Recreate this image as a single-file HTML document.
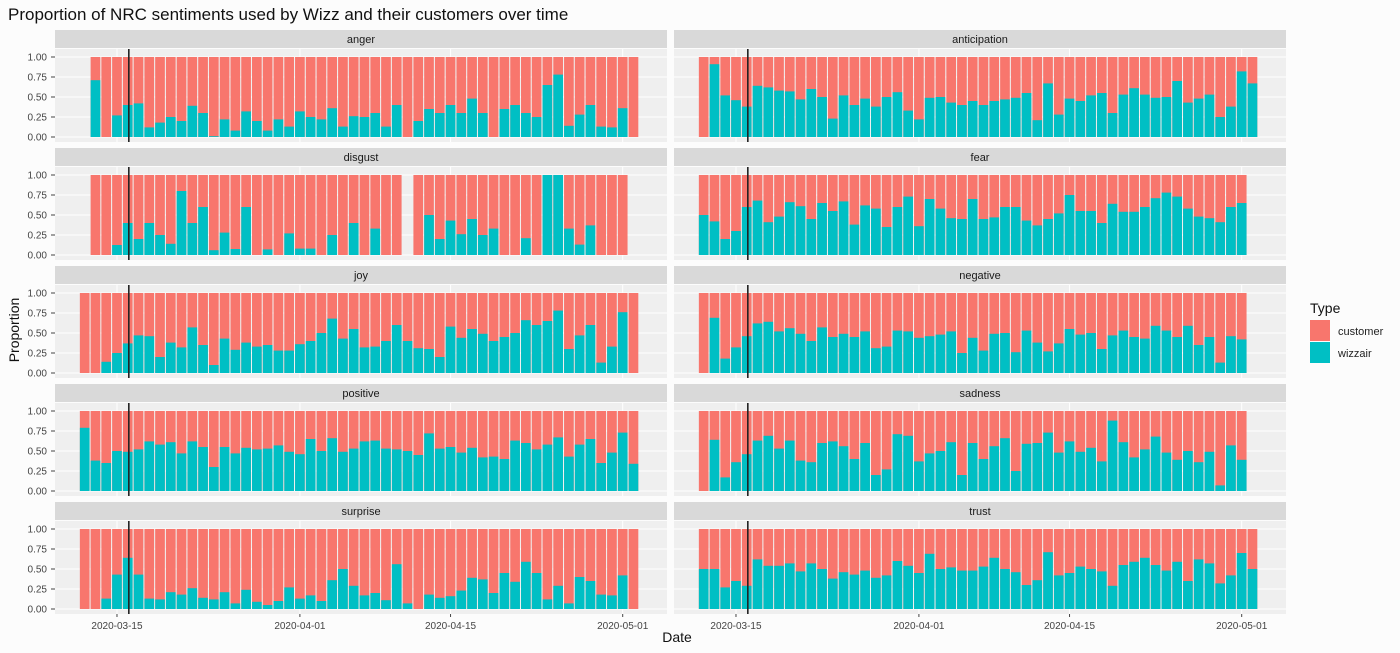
<!DOCTYPE html>
<html><head><meta charset="utf-8"><style>
body{margin:0;background:#fcfcfc;}
svg{display:block;font-family:"Liberation Sans",sans-serif;}
</style></head><body>
<svg id="chart" width="1400" height="653" viewBox="0 0 1400 653" xmlns="http://www.w3.org/2000/svg">
<rect width="1400" height="653" fill="#fcfcfc"/>
<text x="8" y="20" font-size="17" fill="#111">Proportion of NRC sentiments used by Wizz and their customers over time</text>
<text x="0" y="0" font-size="14" fill="#111" transform="translate(19,330) rotate(-90)" text-anchor="middle">Proportion</text>
<text x="677" y="642" font-size="14" fill="#111" text-anchor="middle">Date</text>
<g>
<text x="1310" y="313" font-size="14" fill="#111">Type</text>
<rect x="1310" y="320" width="20" height="21" fill="#F8766D"/>
<text x="1338" y="335" font-size="11" fill="#222">customer</text>
<rect x="1310" y="342" width="20" height="21" fill="#00BFC4"/>
<text x="1338" y="357" font-size="11" fill="#222">wizzair</text>
</g>
<g id="panels"></g>
</svg>
<script>
const sentiments = ["anger","anticipation","disgust","fear","joy","negative","positive","sadness","surprise","trust"];
// start offsets: days after 2020-03-12
const startDay = [1,0,1,0,0,0,0,0,0,0];
const anger = [0.71,0,0.27,0.40,0.42,0.12,0.18,0.25,0.20,0.39,0.30,0.01,0.22,0.08,0.32,0.20,0.08,0.22,0.13,0.32,0.25,0.22,0.36,0.13,0.26,0.25,0.30,0.13,0.40,0,0.20,0.35,0.30,0.40,0.30,0.48,0.30,0,0.35,0.40,0.30,0.25,0.65,0.78,0.14,0.28,0.40,0.13,0.12,0.36,0];
const anticipation = [0,0.91,0.52,0.46,0.38,0.64,0.62,0.58,0.57,0.47,0.60,0.50,0.23,0.52,0.40,0.48,0.38,0.50,0.56,0.33,0.22,0.49,0.50,0.43,0.40,0.45,0.40,0.45,0.47,0.49,0.55,0.21,0.67,0.28,0.48,0.45,0.52,0.55,0.30,0.53,0.61,0.53,0.49,0.50,0.70,0.43,0.48,0.53,0.25,0.38,0.82,0.67];
const disgust = [0,0,0.125,0.40,0.20,0.40,0.25,0.14,0.80,0.40,0.60,0.06,0.28,0.075,0.60,0,0.07,0,0.27,0.08,0.08,0,0.25,0,0.40,0,0.33,0,0,null,0,0.50,0.20,0.43,0.26,0.45,0.25,0.33,0,0,0.21,0,1,1,0.33,0.13,0.37,0,0,0];
const fear = [0.50,0.42,0.20,0.30,0.60,0.68,0.41,0.48,0.66,0.61,0.45,0.65,0.55,0.67,0.38,0.62,0.58,0.35,0.60,0.73,0.36,0.70,0.58,0.46,0.45,0.70,0.45,0.47,0.60,0.60,0.43,0.37,0.45,0.52,0.75,0.55,0.55,0.40,0.64,0.54,0.54,0.60,0.71,0.78,0.73,0.58,0.48,0.46,0.41,0.60,0.65];
const joy = [0,0,0.14,0.25,0.37,0.47,0.46,0.20,0.38,0.32,0.57,0.35,0.10,0.43,0.29,0.38,0.33,0.35,0.28,0.28,0.36,0.40,0.50,0.68,0.43,0.55,0.32,0.33,0.40,0.60,0.40,0.31,0.30,0.20,0.58,0.44,0.55,0.49,0.40,0.45,0.50,0.66,0.60,0.65,0.78,0.30,0.47,0.60,0.13,0.33,0.76,0];
const negative = [0,0.69,0.18,0.32,0.46,0.62,0.64,0.52,0.56,0.49,0.40,0.57,0.45,0.49,0.45,0.52,0.31,0.33,0.53,0.52,0.44,0.46,0.48,0.52,0.25,0.44,0.28,0.49,0.50,0.26,0.53,0.38,0.27,0.37,0.55,0.48,0.50,0.30,0.47,0.53,0.45,0.43,0.59,0.53,0.45,0.59,0.35,0.45,0.13,0.46,0.42];
const positive = [0.79,0.38,0.35,0.50,0.49,0.52,0.62,0.58,0.61,0.47,0.62,0.55,0.30,0.55,0.47,0.54,0.52,0.53,0.57,0.49,0.46,0.65,0.50,0.66,0.49,0.53,0.62,0.63,0.53,0.52,0.50,0.45,0.72,0.53,0.55,0.48,0.54,0.42,0.43,0.40,0.63,0.60,0.52,0.58,0.67,0.43,0.58,0.65,0.35,0.48,0.73,0.34];
const sadness = [0,0.64,0.17,0.36,0.46,0.63,0.69,0.53,0.63,0.38,0.36,0.60,0.62,0.56,0.40,0.60,0.20,0.27,0.71,0.69,0.37,0.47,0.50,0.61,0.20,0.60,0.40,0.56,0.66,0.25,0.59,0.60,0.73,0.48,0.62,0.49,0.54,0.37,0.88,0.61,0.42,0.52,0.68,0.48,0.39,0.50,0.36,0.49,0.07,0.57,0.39];
const surprise = [0,0,0.13,0.43,0.64,0.43,0.13,0.12,0.21,0.18,0.26,0.14,0.12,0.21,0.07,0.24,0.09,0.05,0.10,0.27,0.13,0.17,0.10,0.36,0.50,0.29,0.17,0.20,0.11,0.56,0.07,0,0.18,0.14,0.16,0.23,0.39,0.37,0.20,0.45,0.34,0.59,0.45,0.12,0.29,0.07,0.40,0.35,0.18,0.17,0.42,0];
const trust = [0.50,0.50,0.27,0.35,0.29,0.62,0.54,0.54,0.57,0.47,0.57,0.50,0.38,0.46,0.43,0.48,0.39,0.42,0.60,0.54,0.45,0.69,0.50,0.52,0.48,0.48,0.53,0.64,0.50,0.46,0.30,0.36,0.71,0.42,0.45,0.53,0.50,0.47,0.29,0.55,0.59,0.64,0.55,0.48,0.59,0.35,0.62,0.57,0.32,0.42,0.70,0.50];
const seriesList = [anger,anticipation,disgust,fear,joy,negative,positive,sadness,surprise,trust];
const yTicks = [0,0.25,0.5,0.75,1];
const yTickLabels = ["0.00","0.25","0.50","0.75","1.00"];
const xTickDays = [3,20,34,50];
const xTickLabels = ["2020-03-15","2020-04-01","2020-04-15","2020-05-01"];
const vlineDay = 4.1;

const NS="http://www.w3.org/2000/svg";
const root=document.getElementById('panels');
function mk(tag,attrs,parent){const e=document.createElementNS(NS,tag);for(const k in attrs)e.setAttribute(k,attrs[k]);(parent||root).appendChild(e);return e;}
const colX=[55,674], panelW=612, rowPitch=118;
const dayW=10.76, barW=9.7;
function xScale(col,d){return colX[col]+29.7+d*dayW;}
function yScale(row,v){return 137+row*rowPitch-v*80;}

sentiments.forEach((name,i)=>{
  const col=i%2,row=Math.floor(i/2);
  const g=mk('g',{});
  
  
  const top=30+row*rowPitch;
  const strip=mk('rect',{x:colX[col],y:top,width:panelW,height:18,fill:'#d9d9d9'},g);
  
  
  const st=mk('text',{x:colX[col]+panelW/2,y:top+13,'font-size':11,'text-anchor':'middle',fill:'#1a1a1a'},g);
  st.textContent=name;
  
  
  const pTop=top+19, pBot=yScale(row,0)+5;
  const bg=mk('rect',{x:colX[col],y:pTop,width:panelW,height:pBot-pTop,fill:'#efefef'},g);
  
  
  yTicks.forEach(v=>{mk('line',{x1:colX[col],x2:colX[col]+panelW,y1:yScale(row,v),y2:yScale(row,v),stroke:'#fff','stroke-width':1},g);});
  xTickDays.forEach(d=>{mk('line',{x1:xScale(col,d),x2:xScale(col,d),y1:pTop,y2:pBot,stroke:'#fff','stroke-width':1},g);});
  const data=seriesList[i];
  data.forEach((v,j)=>{
    if(v===null)return;
    const d=startDay[i]+j, x=xScale(col,d)-barW/2;
    const r=mk('rect',{x:x,y:yScale(row,1),width:barW,height:yScale(row,0)-yScale(row,1),fill:'#F8766D'},g);
    
    
    const c=mk('rect',{x:x,y:yScale(row,v),width:barW,height:yScale(row,0)-yScale(row,v),fill:'#00BFC4'},g);
    
    
  });
  const vl=mk('line',{x1:xScale(col,vlineDay),x2:xScale(col,vlineDay),y1:pTop,y2:pBot,stroke:'#222','stroke-width':1.6},g);
  
  
  if(col===0){
    yTicks.forEach((v,k)=>{
      const t=mk('text',{x:colX[0]-8,y:yScale(row,v)+3.5,'font-size':10,'text-anchor':'end',fill:'#444'},g);
      t.textContent=yTickLabels[k];
      
      
      mk('line',{x1:colX[0]-4,x2:colX[0],y1:yScale(row,v),y2:yScale(row,v),stroke:'#444'},g);
    });
  }
  if(row===4){
    xTickDays.forEach((d,k)=>{
      mk('line',{x1:xScale(col,d),x2:xScale(col,d),y1:pBot,y2:pBot+3,stroke:'#444'},g);
      const t=mk('text',{x:xScale(col,d),y:pBot+15,'font-size':10,'text-anchor':'middle',fill:'#444'},g);
      t.textContent=xTickLabels[k];
      
      
    });
  }
});
</script>
</body></html>
